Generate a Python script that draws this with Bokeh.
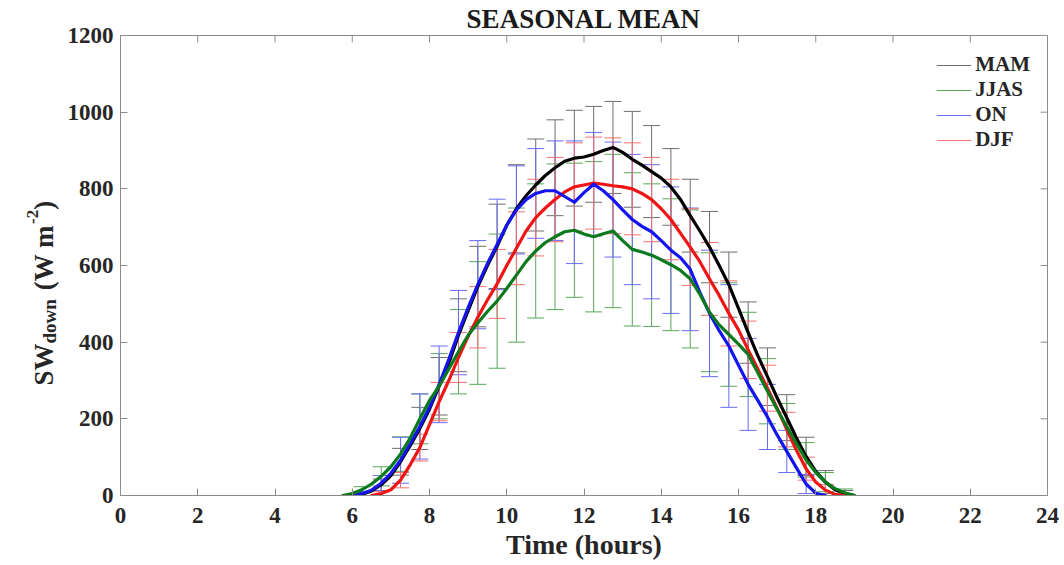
import math
from bokeh.plotting import figure
from bokeh.layouts import row
from bokeh.models import Range1d, FixedTicker, Legend, LegendItem
from bokeh.core.properties import value
from bokeh.embed import file_html
from bokeh.resources import INLINE

# ---------------- data ----------------
x_ticks = [0, 2, 4, 6, 8, 10, 12, 14, 16, 18, 20, 22, 24]
y_ticks = [0, 200, 400, 600, 800, 1000, 1200]
series_names = ["MAM", "JJAS", "ON", "DJF"]

step = 0.25
# mean curves, quarter-hour resolution, start hour per season
mam_start = 6.0
mam_mean = [0, 3, 12, 28, 52, 88, 130, 175, 225, 285, 345, 418, 482, 545, 600, 650,
            705, 748, 782, 810, 835, 855, 872, 880, 883, 890, 900, 908, 895, 877, 862,
            845, 828, 805, 772, 730, 690, 648, 600, 550, 488, 425, 365, 310, 255, 203,
            150, 102, 63, 35, 15, 5, 0]
jjas_start = 5.75
jjas_mean = [0, 5, 15, 30, 50, 75, 108, 150, 200, 248, 285, 330, 375, 418, 450, 480,
             507, 540, 575, 610, 638, 660, 675, 688, 692, 682, 675, 683, 690, 665, 642,
             635, 627, 615, 602, 587, 565, 525, 478, 445, 420, 395, 368, 320, 272, 225,
             180, 135, 93, 60, 35, 18, 7, 0]
on_start = 6.0
on_mean = [0, 5, 14, 32, 58, 92, 135, 180, 230, 290, 355, 425, 490, 550, 605, 655,
           705, 745, 772, 788, 795, 795, 780, 765, 790, 812, 795, 772, 745, 720, 702,
           688, 665, 640, 620, 590, 530, 475, 430, 390, 340, 290, 248, 205, 158, 115,
           72, 30, 6, 0]
djf_start = 6.5
djf_mean = [0, 5, 15, 40, 80, 125, 185, 245, 300, 360, 415, 465, 510, 552, 600, 645,
            690, 725, 750, 772, 792, 805, 810, 815, 812, 808, 805, 800, 788, 772, 748,
            720, 684, 648, 610, 565, 522, 475, 432, 380, 330, 280, 228, 172, 118, 70,
            35, 14, 3, 0]

# error bars (standard deviation) every half hour
eb_hours = [6.25, 6.75, 7.25, 7.75, 8.25, 8.75, 9.25, 9.75, 10.25, 10.75, 11.25, 11.75,
            12.25, 12.75, 13.25, 13.75, 14.25, 14.75, 15.25, 15.75, 16.25, 16.75,
            17.25, 17.75, 18.25, 18.75]
mam_std = [5, 15, 35, 55, 75, 95, 105, 110, 115, 120, 125, 125, 125, 120, 125, 120,
           100, 95, 93, 85, 80, 75, 60, 50, 30, 8]
jjas_std = [8, 25, 45, 65, 85, 110, 160, 175, 175, 175, 190, 175, 196, 200, 200, 186,
            172, 180, 155, 135, 110, 85, 60, 45, 25, 10]
on_std = [5, 20, 60, 85, 100, 110, 115, 118, 115, 117, 130, 160, 135, 150, 170, 175,
          165, 160, 165, 160, 120, 85, 55, 25, 0, 0]
djf_std = [0, 5, 20, 35, 50, 65, 80, 90, 95, 100, 110, 115, 120, 125, 120, 110, 105,
           100, 95, 85, 75, 60, 45, 30, 15, 0]

title_text = "SEASONAL MEAN"
x_label = "Time (hours)"
# y label pieces: (text, role)  role: normal / sub / sup
y_label_parts = [("SW", "normal"), ("down", "sub"), ("(W m", "normal"), ("-2", "sup"), (")", "normal")]

# ---------------- styling ----------------
FONT = "Liberation Serif"
TXT = "#262626"
line_colors = {"MAM": "#000000", "JJAS": "#0b7a1e", "ON": "#1414f0", "DJF": "#f01414"}
bar_colors = {"MAM": "#6e6e6e", "JJAS": "#5aa65a", "ON": "#6a6af5", "DJF": "#f57070"}
cap_half = 0.22
LAB_W = 60
H = 565

p = figure(frame_width=927, frame_height=460, output_backend="svg", toolbar_location=None,
           x_range=Range1d(0, 24), y_range=Range1d(0, 1200),
           min_border_left=120 - LAB_W, min_border_right=17, min_border_top=35,
           min_border_bottom=70, background_fill_color="white",
           border_fill_color="white")
p.grid.visible = False
p.outline_line_color = "#8c8c8c"
p.outline_line_width = 1

p.title.text = title_text
p.title.align = "center"
p.title.text_font = FONT
p.title.text_font_style = "bold"
p.title.text_font_size = "27px"
p.title.text_color = "#1a1a1a"
p.title.standoff = 3

for ax in (p.xaxis[0], p.yaxis[0]):
    ax.axis_line_color = "#8c8c8c"
    ax.major_tick_line_color = "#8c8c8c"
    ax.major_tick_in = 7
    ax.major_tick_out = 0
    ax.minor_tick_line_color = None
    ax.major_label_text_font = FONT
    ax.major_label_text_font_style = "bold"
    ax.major_label_text_font_size = "23px"
    ax.major_label_text_color = TXT
p.xaxis.ticker = FixedTicker(ticks=x_ticks)
p.yaxis.ticker = FixedTicker(ticks=y_ticks)
p.xaxis.major_label_standoff = 12
p.yaxis.major_label_standoff = 7
p.xaxis.axis_label = x_label
p.xaxis.axis_label_text_font = FONT
p.xaxis.axis_label_text_font_style = "bold"
p.xaxis.axis_label_text_font_size = "28px"
p.xaxis.axis_label_text_color = TXT
p.xaxis.axis_label_standoff = 3

# top / right ticks (box)
px_per_y = 460 / 1200.0
px_per_x = 927 / 24.0
tick_len = 7
p.segment(x0=x_ticks, x1=x_ticks, y0=[1200] * len(x_ticks),
          y1=[1200 - tick_len / px_per_y] * len(x_ticks), line_color="#8c8c8c", line_width=1)
p.segment(x0=[24] * len(y_ticks), x1=[24 - tick_len / px_per_x] * len(y_ticks),
          y0=y_ticks, y1=y_ticks, line_color="#8c8c8c", line_width=1)

data = {
    "MAM": (mam_start, mam_mean, mam_std),
    "JJAS": (jjas_start, jjas_mean, jjas_std),
    "ON": (on_start, on_mean, on_std),
    "DJF": (djf_start, djf_mean, djf_std),
}

legend_renderers = {}
for name in series_names:
    start, mean, std = data[name]
    hours = [start + step * i for i in range(len(mean))]
    lookup = {round(h, 2): v for h, v in zip(hours, mean)}
    xs, lo, hi = [], [], []
    for h, s in zip(eb_hours, std):
        m = lookup.get(round(h, 2))
        if m is None or (m == 0 and s == 0):
            continue
        xs.append(h)
        lo.append(max(m - s, 0))
        hi.append(m + s)
    c = bar_colors[name]
    r = p.segment(x0=xs, x1=xs, y0=lo, y1=hi, line_color=c, line_width=1)
    p.segment(x0=[x - cap_half for x in xs], x1=[x + cap_half for x in xs],
              y0=hi, y1=hi, line_color=c, line_width=1)
    p.segment(x0=[x - cap_half for x in xs], x1=[x + cap_half for x in xs],
              y0=lo, y1=lo, line_color=c, line_width=1)
    legend_renderers[name] = r

for name in ["MAM", "DJF", "ON", "JJAS"]:
    start, mean, std = data[name]
    hours = [start + step * i for i in range(len(mean))]
    p.line(hours, mean, line_color=line_colors[name], line_width=3.2,
           line_join="round", line_cap="round")

legend = Legend(items=[LegendItem(label=n, renderers=[legend_renderers[n]]) for n in series_names],
                location="top_right", border_line_color=None, background_fill_alpha=0,
                label_text_font=FONT, label_text_font_style="bold",
                label_text_font_size="21px", label_text_color=TXT,
                glyph_width=35, glyph_height=22, label_height=22, spacing=0,
                label_standoff=4, padding=5, margin=17)
p.add_layout(legend)

# ---------------- y-axis label panel ----------------
lab = figure(frame_width=LAB_W, frame_height=H, output_backend="svg", toolbar_location=None,
             x_range=Range1d(0, LAB_W), y_range=Range1d(0, H), min_border=0, title=None,
             background_fill_color="white", border_fill_color="white")
lab.axis.visible = False
lab.grid.visible = False
lab.outline_line_color = None

sizes = {"normal": 27, "sub": 19, "sup": 17}
shift = {"normal": 0, "sub": 6, "sup": -11}
gap_after = {"SW": 0, "down": 9, "(W m": 1, "-2": 0, ")": 0}
char_w = {"S": 0.556, "W": 1.0, "d": 0.556, "o": 0.5, "w": 0.722, "n": 0.556, " ": 0.25,
          "(": 0.333, ")": 0.333, "m": 0.833, "-": 0.333, "2": 0.5}
base_x = 43
pos_y = H - 350
for txt, role in y_label_parts:
    fs = sizes[role]
    lab.text(x=[base_x + shift[role]], y=[pos_y], text=[txt], angle=math.pi / 2,
             text_align="left", text_baseline="alphabetic", text_font=value(FONT),
             text_font_style="bold", text_font_size=f"{fs}px", text_color=TXT)
    pos_y += sum(char_w.get(ch, 0.5) for ch in txt) * fs + gap_after[txt]

layout = row(lab, p)
open("out.html", "w").write(file_html(layout, INLINE))
